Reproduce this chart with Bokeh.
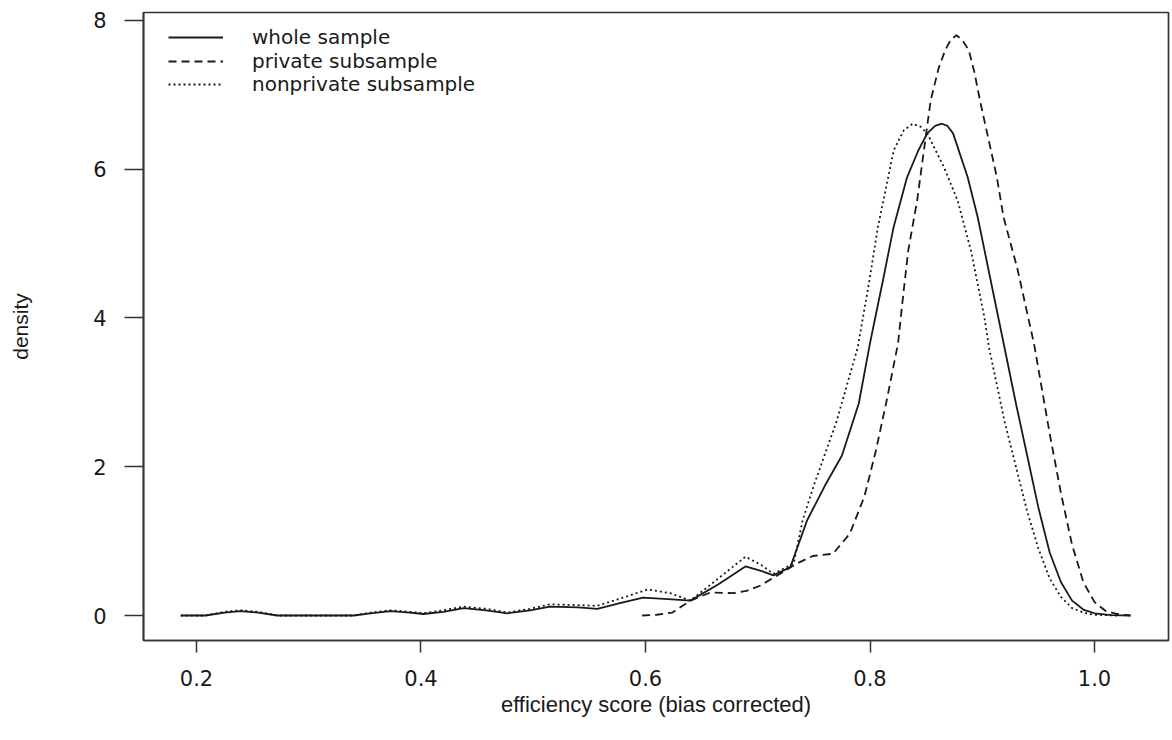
from bokeh.plotting import figure
from bokeh.models import FixedTicker, NumeralTickFormatter, Legend, LegendItem, Range1d
from bokeh.embed import file_html
from bokeh.resources import INLINE

# ---- data ----
whole_x = [0.186, 0.208, 0.225, 0.239, 0.255, 0.272, 0.340, 0.355, 0.373, 0.390, 0.402, 0.420,
           0.438, 0.458, 0.477, 0.497, 0.515, 0.540, 0.557, 0.578, 0.598, 0.620, 0.640, 0.665,
           0.689, 0.703, 0.714, 0.729, 0.744, 0.760, 0.775, 0.790, 0.800, 0.812, 0.821, 0.833,
           0.843, 0.851, 0.858, 0.864, 0.869, 0.874, 0.887, 0.896, 0.907, 0.919, 0.930, 0.940,
           0.950, 0.960, 0.970, 0.980, 0.990, 1.000, 1.015, 1.032]
whole_y = [0.0, 0.0, 0.04, 0.06, 0.04, 0.0, 0.0, 0.03, 0.06, 0.04, 0.02, 0.05,
           0.10, 0.07, 0.03, 0.07, 0.12, 0.11, 0.09, 0.17, 0.24, 0.22, 0.20, 0.42,
           0.66, 0.60, 0.54, 0.65, 1.28, 1.75, 2.15, 2.85, 3.66, 4.54, 5.22, 5.89,
           6.25, 6.48, 6.58, 6.61, 6.58, 6.48, 5.89, 5.35, 4.54, 3.66, 2.85, 2.15,
           1.45, 0.85, 0.45, 0.20, 0.08, 0.03, 0.005, 0.0]

private_x = [0.597, 0.610, 0.624, 0.640, 0.658, 0.678, 0.690, 0.702, 0.720, 0.735, 0.749, 0.767,
             0.782, 0.795, 0.805, 0.815, 0.825, 0.829, 0.834, 0.842, 0.848, 0.854, 0.861, 0.867,
             0.872, 0.877, 0.882, 0.888, 0.893, 0.898, 0.913, 0.919, 0.931, 0.946, 0.960, 0.970,
             0.980, 0.990, 1.000, 1.010, 1.020, 1.032]
private_y = [0.0, 0.01, 0.04, 0.20, 0.31, 0.30, 0.33, 0.40, 0.56, 0.70, 0.80, 0.83,
             1.10, 1.60, 2.20, 2.90, 3.66, 4.23, 4.90, 5.58, 6.25, 6.92, 7.35, 7.60,
             7.74, 7.80, 7.74, 7.60, 7.30, 6.92, 5.89, 5.35, 4.68, 3.66, 2.45, 1.65,
             0.95, 0.45, 0.18, 0.06, 0.02, 0.0]

nonprivate_x = [0.186, 0.208, 0.225, 0.239, 0.255, 0.272, 0.340, 0.355, 0.373, 0.390, 0.402, 0.420,
                0.438, 0.458, 0.477, 0.497, 0.515, 0.540, 0.557, 0.580, 0.602, 0.622, 0.640, 0.665,
                0.689, 0.703, 0.714, 0.732, 0.740, 0.750, 0.770, 0.789, 0.799, 0.807, 0.815, 0.821,
                0.830, 0.838, 0.845, 0.851, 0.866, 0.878, 0.890, 0.902, 0.906, 0.920, 0.930, 0.940,
                0.950, 0.960, 0.970, 0.980, 0.990, 1.000, 1.020]
nonprivate_y = [0.0, 0.0, 0.05, 0.07, 0.05, 0.0, 0.0, 0.04, 0.07, 0.05, 0.03, 0.07,
                0.12, 0.09, 0.04, 0.09, 0.15, 0.14, 0.13, 0.24, 0.35, 0.30, 0.20, 0.50,
                0.79, 0.68, 0.56, 0.70, 1.28, 1.75, 2.60, 3.60, 4.46, 5.22, 5.80, 6.25,
                6.52, 6.61, 6.57, 6.48, 6.02, 5.58, 4.90, 4.00, 3.60, 2.60, 2.00, 1.40,
                0.90, 0.50, 0.25, 0.10, 0.04, 0.01, 0.0]

x_ticks = [0.2, 0.4, 0.6, 0.8, 1.0]
y_ticks = [0, 2, 4, 6, 8]
series_labels = ["whole sample", "private subsample", "nonprivate subsample"]

TICK_FONT = "DejaVu Sans"
LABEL_FONT = "Liberation Sans"
INK = "#1a1a1a"

p = figure(width=1170, height=734, output_backend="svg", toolbar_location=None,
           x_range=Range1d(0.1528, 1.0659), y_range=Range1d(-0.336, 8.105),
           min_border_left=143, min_border_right=2, min_border_top=12, min_border_bottom=94)

p.grid.visible = False
p.background_fill_color = "white"
p.border_fill_color = "white"
p.outline_line_color = "#333333"
p.outline_line_width = 1.7

r1 = p.line(whole_x, whole_y, line_color=INK, line_width=1.8, line_join="round")
r2 = p.line(private_x, private_y, line_color=INK, line_width=1.8, line_dash="8 5", line_join="round")
r3 = p.line(nonprivate_x, nonprivate_y, line_color=INK, line_width=1.8, line_dash="2 3", line_join="round")

xa = p.xaxis[0]
xa.ticker = FixedTicker(ticks=x_ticks)
xa.formatter = NumeralTickFormatter(format="0.0")
xa.axis_label = "efficiency score (bias corrected)"
ya = p.yaxis[0]
ya.ticker = FixedTicker(ticks=y_ticks)
ya.formatter = NumeralTickFormatter(format="0")
ya.axis_label = "density"

for ax in (xa, ya):
    ax.axis_line_color = "#333333"
    ax.axis_line_width = 1.7
    ax.major_tick_line_color = "#333333"
    ax.major_tick_line_width = 1.5
    ax.major_tick_in = 0
    ax.minor_tick_line_color = None
    ax.major_label_text_font = TICK_FONT
    ax.major_label_text_font_size = "21px"
    ax.major_label_text_color = INK
    ax.axis_label_text_font = LABEL_FONT
    ax.axis_label_text_font_style = "normal"
    ax.axis_label_text_color = INK

xa.axis_label_text_font_size = "22px"
ya.axis_label_text_font_size = "21px"

xa.major_tick_out = 12
xa.major_label_standoff = 17
xa.axis_label_standoff = 3
ya.major_tick_out = 19
ya.major_label_standoff = 18
ya.axis_label_standoff = 58

# legend: one single-row legend per series, stacked at R-like spacing
legend_rows_y = [591, 567.5, 544]
for lab, rend, ly in zip(series_labels, [r1, r2, r3], legend_rows_y):
    lg = Legend(items=[LegendItem(label=lab, renderers=[rend])],
                location=(25, ly), orientation="vertical",
                border_line_color=None, background_fill_alpha=0,
                padding=0, margin=0, spacing=0,
                glyph_width=55, glyph_height=20, label_height=20,
                label_standoff=29,
                label_text_font=TICK_FONT, label_text_font_size="20px",
                label_text_color=INK)
    p.add_layout(lg, "center")

open("out.html", "w").write(file_html(p, INLINE))
